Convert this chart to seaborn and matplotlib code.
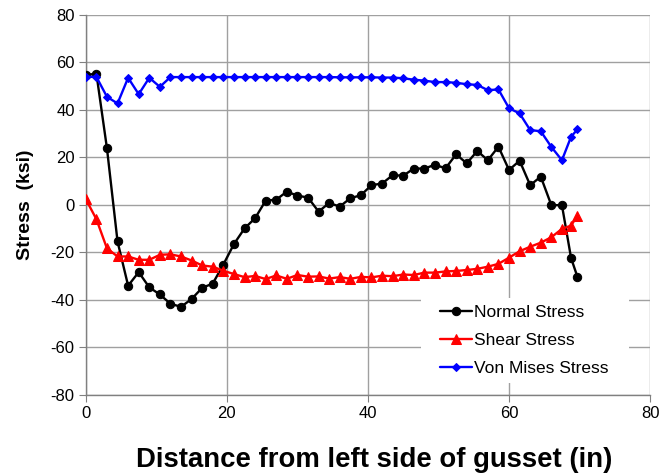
import matplotlib
matplotlib.use("Agg")
import matplotlib.pyplot as plt
from matplotlib.patches import Rectangle
import seaborn as sns
import pandas as pd

distance = [0, 1.5, 3, 4.5, 6, 7.5, 9, 10.5, 12, 13.5, 15, 16.5, 18, 19.5, 21, 22.5,
            24, 25.5, 27, 28.5, 30, 31.5, 33, 34.5, 36, 37.5, 39, 40.5, 42, 43.5,
            45, 46.5, 48, 49.5, 51, 52.5, 54, 55.5, 57, 58.5, 60, 61.5, 63, 64.5,
            66, 67.5, 68.8, 69.7]

normal_stress = [54.6, 55.3, 23.8, -15.4, -34.0, -28.3, -34.7, -37.7, -41.6, -42.9,
                 -39.6, -34.9, -33.1, -25.1, -16.5, -9.9, -5.6, 1.8, 2.2, 5.6,
                 3.9, 3.1, -2.8, 0.8, -0.7, 2.8, 4.1, 8.3, 9.0, 12.5,
                 12.3, 15.3, 15.3, 16.9, 15.4, 21.3, 17.5, 22.7, 18.8, 24.5,
                 14.7, 18.6, 8.3, 11.9, -0.1, -0.1, -22.4, -30.3]

shear_stress = [2.4, -6.0, -18.3, -21.7, -21.7, -23.1, -23.1, -21.0, -20.8, -21.7,
                -23.4, -25.5, -26.0, -27.7, -29.1, -30.4, -29.9, -31.2, -29.7, -31.1,
                -29.5, -30.2, -30.1, -31.0, -30.4, -31.1, -30.3, -30.5, -29.8, -30.0,
                -29.3, -29.5, -28.5, -28.5, -28.0, -27.8, -27.4, -26.9, -26.0, -24.8,
                -22.2, -19.5, -17.6, -15.9, -13.6, -10.1, -8.7, -4.5]

von_mises_stress = [53.9, 53.9, 45.5, 42.7, 53.5, 46.6, 53.5, 49.7, 53.8, 53.8,
                    53.8, 53.8, 53.8, 53.8, 53.8, 53.8, 53.8, 53.8, 53.8, 53.8,
                    53.8, 53.8, 53.8, 53.8, 53.7, 53.7, 53.7, 53.7, 53.6, 53.6,
                    53.3, 52.7, 52.3, 51.7, 51.7, 51.4, 50.8, 50.5, 48.3, 48.6,
                    40.7, 38.5, 31.5, 31.0, 24.4, 18.8, 28.7, 31.8]

series_labels = ["Normal Stress", "Shear Stress", "Von Mises Stress"]
x_ticks = [0, 20, 40, 60, 80]
y_ticks = [-80, -60, -40, -20, 0, 20, 40, 60, 80]

df = pd.DataFrame({
    "distance": distance,
    series_labels[0]: normal_stress,
    series_labels[1]: shear_stress,
    series_labels[2]: von_mises_stress,
})

sns.set_style("white")
plt.rcParams["font.family"] = ["Liberation Sans", "DejaVu Sans"]
plt.rcParams["axes.unicode_minus"] = False
plt.rcParams["text.color"] = "black"
plt.rcParams["axes.labelcolor"] = "black"

fig = plt.figure(figsize=(6.6, 4.74), dpi=100)
ax = fig.add_axes([0.130, 0.1667, 0.855, 0.802])

styles = [
    dict(color="black", marker="o", markersize=6, linewidth=1.7),
    dict(color="#ff0000", marker="^", markersize=6.5, linewidth=1.7),
    dict(color="#0000ff", marker="D", markersize=4.5, linewidth=1.7),
]
for name, st in zip(series_labels, styles):
    sns.lineplot(data=df, x="distance", y=name, ax=ax, label=name,
                 markeredgecolor=st["color"], zorder=3, **st)

ax.set_xlim(0, 80)
ax.set_ylim(-80, 80)
ax.set_xticks(x_ticks)
ax.set_yticks(y_ticks)
ax.grid(True, color="#a0a0a0", linewidth=1.0)
ax.set_axisbelow(True)
for side in ["top", "right"]:
    ax.spines[side].set_visible(False)
for side in ["left", "bottom"]:
    ax.spines[side].set_color("#808080")
    ax.spines[side].set_linewidth(1.0)
ax.tick_params(axis="both", which="major", direction="out", length=5,
               color="#808080", labelcolor="black", labelsize=12, pad=3,
               left=True, bottom=True)

ax.set_xlabel("Distance from left side of gusset (in)", fontsize=19.8,
              fontweight="bold")
ax.xaxis.set_label_coords(0.5115, -0.136)
ax.set_ylabel("Stress  (ksi)", fontsize=14, fontweight="bold", labelpad=12)

# white legend background box (covers the gridlines like the reference)
ax.add_patch(Rectangle((0.594, 0.0316), 0.369, 0.224, transform=ax.transAxes,
                       facecolor="white", edgecolor="none", zorder=1.5))

leg = ax.legend(loc="upper left", bbox_to_anchor=(0.628, 0.2367), fontsize=12.5,
                frameon=False, handlelength=1.84, handletextpad=0.1,
                labelspacing=0.74, borderpad=0, borderaxespad=0)

fig.savefig("out.png", dpi=100)
